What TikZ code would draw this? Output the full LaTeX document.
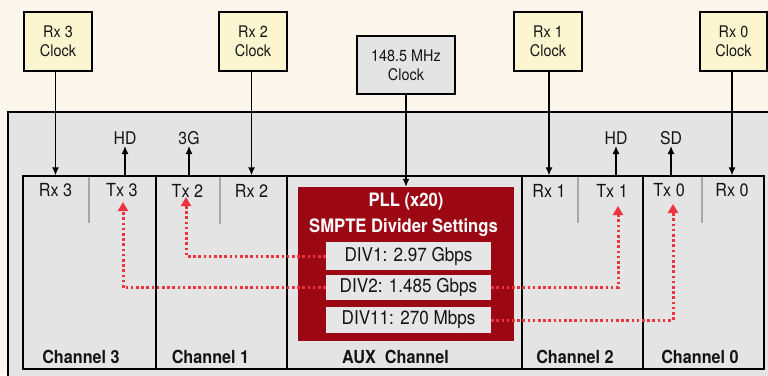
\documentclass[tikz,border=0pt]{standalone}
\usepackage{fontspec}
\setmainfont[FakeStretch=0.9]{TeX Gyre Heros}
\usetikzlibrary{arrows.meta}
\definecolor{bgcream}{HTML}{FDF6EC}
\definecolor{panelgray}{HTML}{E4E4E4}
\definecolor{clkyellow}{HTML}{FBF6CF}
\definecolor{pllred}{HTML}{9B0712}
\definecolor{dotred}{HTML}{EE3340}
\definecolor{divgray}{HTML}{E6E6E6}
\definecolor{txtdark}{HTML}{141414}
\definecolor{subgray}{HTML}{A8A8A8}
\tikzset{
  clockbox/.style={draw=black, line width=1.3pt, fill=clkyellow, minimum width=68pt, minimum height=59pt,
    align=center, font=\fontsize{16}{19}\selectfont, text=txtdark, inner sep=0pt},
  refbox/.style={clockbox, fill=panelgray, minimum width=98pt, minimum height=58pt},
  chanbox/.style={draw=black, line width=1.3pt, minimum height=193pt, inner sep=0pt},
  lbl/.style={font=\fontsize{18}{19}\selectfont, text=txtdark, inner sep=1pt},
  sig/.style={font=\fontsize{17.5}{19}\selectfont, text=txtdark, inner sep=1pt},
  chlbl/.style={font=\fontsize{18}{19}\selectfont\bfseries, text=txtdark, inner sep=1pt},
  plltxt/.style={font=\fontsize{18.5}{20}\selectfont\bfseries, text=white, inner sep=1pt},
  divbox/.style={fill=divgray, minimum width=165pt, inner sep=0pt, font=\fontsize{19}{20}\selectfont, text=txtdark},
  arr/.style={line width=1.3pt, -{Latex[length=8pt,width=7pt]}},
  reddot/.style={draw=dotred, line width=3pt, dash pattern=on 2.6pt off 2.6pt,
    -{Triangle[length=9pt,width=10pt,fill=dotred]}},
  subdiv/.style={draw=subgray, line width=2pt}
}
\begin{document}
\begin{tikzpicture}[x=1pt,y=-1pt]
\fill[bgcream] (0,0) rectangle (768,375);
\useasboundingbox (0,0) rectangle (768,375);
\clip (0,0) rectangle (768,375);
% outer panel
\path[fill=panelgray, draw=black, line width=1.3pt] (8,112) rectangle (800,400);

% clocks
\node[clockbox] (clk3) at (58,41.5) {Rx 3\\Clock};
\node[clockbox] (clk2) at (253,41.5) {Rx 2\\Clock};
\node[clockbox] (clk1) at (548,41.5) {Rx 1\\Clock};
\node[clockbox, minimum width=67pt] (clk0) at (733.5,41.5) {Rx 0\\Clock};
\node[refbox] (refclk) at (406,65) {148.5 MHz\\Clock};

% channel boxes
\node[chanbox, minimum width=133pt] (ch3) at (89.5,272.5) {};
\node[chanbox, minimum width=131pt] (ch1) at (221.5,272.5) {};
\node[chanbox, minimum width=235pt] (aux) at (404.5,272.5) {};
\node[chanbox, minimum width=121pt] (ch2) at (582.5,272.5) {};
\node[chanbox, minimum width=121pt] (ch0) at (703.5,272.5) {};

% sub dividers
\draw[subdiv] (89,176.7) -- (89,223);
\draw[subdiv] (220,176.7) -- (220,224);
\draw[subdiv] (578,176.7) -- (578,223);
\draw[subdiv] (702,176.7) -- (702,223);

% port labels
\node[lbl] (rx3) at (55.5,190.5) {Rx 3};
\node[lbl] (tx3) at (122,190.5) {Tx 3};
\node[lbl] (tx2) at (187.5,190.5) {Tx 2};
\node[lbl] (rx2) at (251.5,190.5) {Rx 2};
\node[lbl] (rx1) at (549,190.5) {Rx 1};
\node[lbl] (tx1) at (612,190.5) {Tx 1};
\node[lbl] (tx0) at (669,190.5) {Tx 0};
\node[lbl] (rx0) at (732,190.5) {Rx 0};

% channel labels
\node[chlbl] (ch3l) at (81,357) {Channel 3};
\node[chlbl] (ch1l) at (210.5,357) {Channel 1};
\node[chlbl] (auxl) at (395.5,357) {AUX\ \ Channel};
\node[chlbl] (ch2l) at (575,357) {Channel 2};
\node[chlbl] (ch0l) at (700,357) {Channel 0};

% PLL block
\node[fill=pllred, minimum width=216pt, minimum height=154pt, inner sep=0pt] (pll) at (406,264) {};
\node[plltxt] (pllt) at (406,202) {PLL (x20)};
\node[plltxt] (smpte) at (403.5,228) {SMPTE Divider Settings};
\node[divbox, minimum height=28pt] (div1) at (408.5,256) {DIV1: 2.97 Gbps};
\node[divbox, minimum height=25pt] (div2) at (408.5,287.5) {DIV2: 1.485 Gbps};
\node[divbox, minimum height=26pt] (div11) at (408.5,320) {DIV11: 270 Mbps};

% signal outputs
\node[sig, anchor=south] (hd3) at (125,146) {HD};
\node[sig, anchor=south] (g3) at (189,146) {3G};
\node[sig, anchor=south] (hd1) at (616,146) {HD};
\node[sig, anchor=south] (sd0) at (671,146) {SD};
\draw[arr] (hd3.south |- ch3.north) -- (hd3.south);
\draw[arr] (g3.south |- ch1.north) -- (g3.south);
\draw[arr] (hd1.south |- ch2.north) -- (hd1.south);
\draw[arr] (sd0.south |- ch0.north) -- (sd0.south);

% clock arrows
\draw[arr] (clk3.south -| rx3) -- (rx3 |- ch3.north);
\draw[arr] (clk2.south -| rx2) -- (rx2 |- ch1.north);
\draw[arr] (clk1.south -| rx1) -- (rx1 |- ch2.north);
\draw[arr] (clk0.south -| rx0) -- (rx0 |- ch0.north);
\draw[arr] (refclk.south) -- (pll.north);

% red dotted routes
\coordinate (t2) at (186,197);
\coordinate (t3) at (123,202);
\coordinate (t1) at (618,206);
\coordinate (t0) at (673,204);
\draw[reddot] (div1.west) -| (t2);
\draw[reddot] (div2.west) -| (t3);
\draw[reddot] (div2.east) -| (t1);
\draw[reddot] (div11.east) -| (t0);
\end{tikzpicture}
\end{document}
